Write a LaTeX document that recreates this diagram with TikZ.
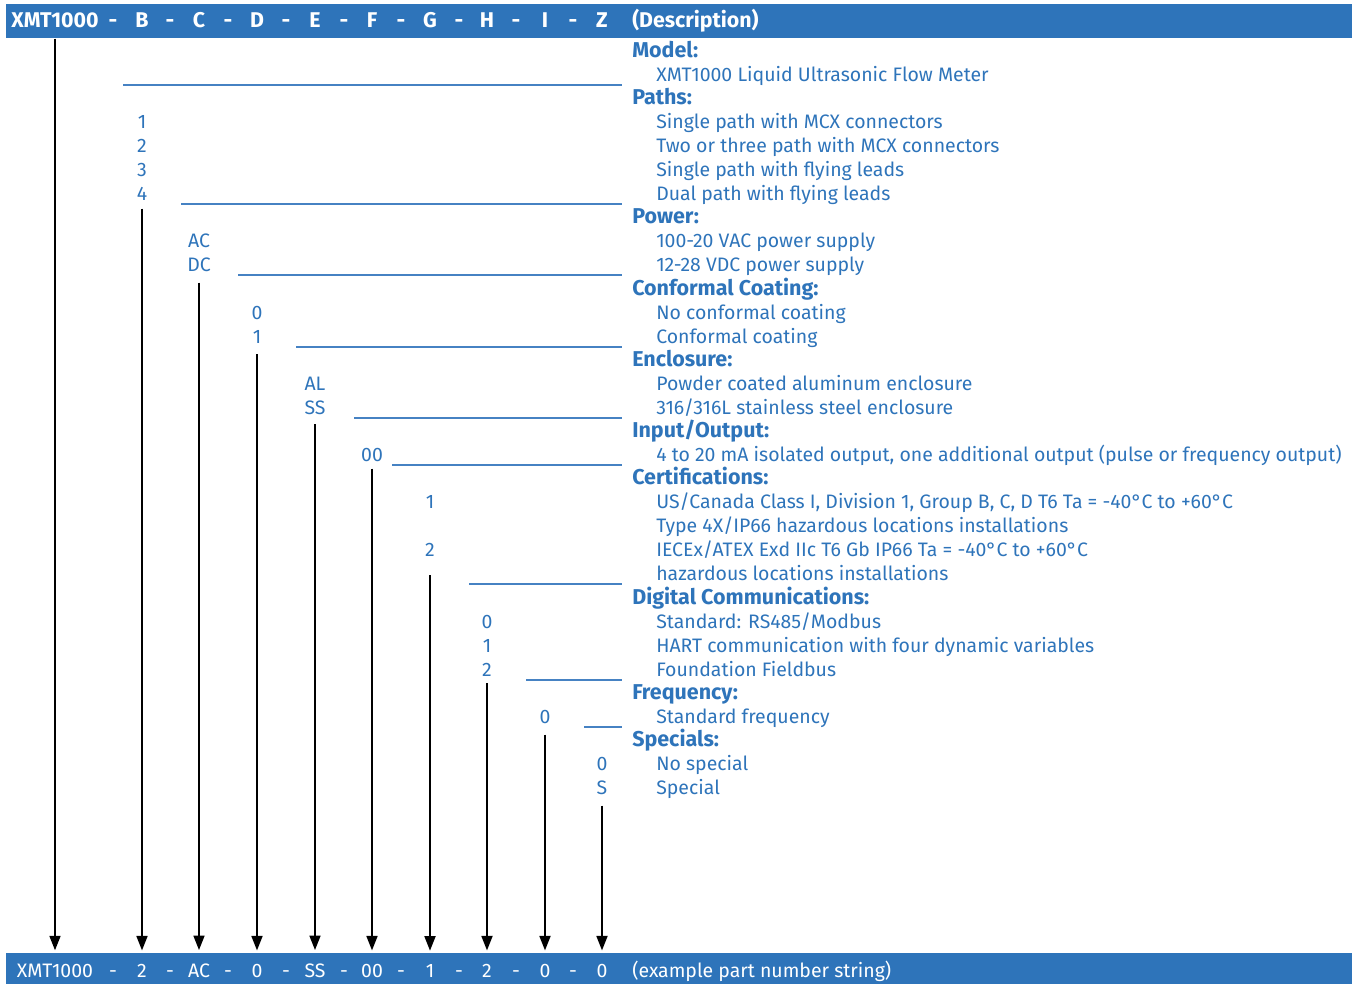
\documentclass[tikz,border=0pt]{standalone}
\usepackage{fontspec}
\setmainfont{Fira Sans}
\usetikzlibrary{arrows.meta}
\definecolor{geblue}{RGB}{46,116,186}
\definecolor{gerule}{RGB}{70,130,195}

\begin{document}
\begin{tikzpicture}[x=0.75pt,y=-0.75pt,
  txt/.style={inner sep=0pt,yshift=-2.2pt,font=\fontsize{14.6}{17}\selectfont},
  code/.style={txt,text=geblue,anchor=mid},
  desc/.style={txt,text=geblue,anchor=mid west},
  group/.style={desc,font=\fontsize{16.1}{18}\selectfont\bfseries},
  barhead/.style={txt,text=white,anchor=mid,font=\fontsize{16}{18}\selectfont\bfseries},
  barval/.style={txt,text=white,anchor=mid},
  pick/.style={line width=2pt,-{Triangle[length=11pt,width=8pt]}},
  rule/.style={gerule,line width=0.9pt}]
\useasboundingbox (0,0) rectangle (1359,984);

\fill[geblue] (6,4) rectangle (1352,38);
\fill[geblue] (6,953) rectangle (1352,984);

\foreach \n/\x/\t in {x/55/XMT1000,b/142/B,c/199/C,d/257/D,e/315/E,f/372/F,g/430/G,h/487/H,i/545/I,z/602/Z}
  \node[barhead] (h\n) at (\x,21) {\t};
\foreach \x [count=\i] in {113,170,228,286,344,401,459,516,573}
  \node[barhead] (hd\i) at (\x,21) {-};
\node[barhead,anchor=mid west] (hdesc) at (632,21) {(Description)};

\foreach \n/\x/\t in {x/55/XMT1000,b/142/2,c/199/AC,d/257/0,e/315/SS,f/372/00,g/430/1,h/487/2,i/545/0,z/602/0}
  \node[barval] (v\n) at (\x,971) {\t};
\foreach \x [count=\i] in {113,170,228,286,344,401,459,516,573}
  \node[barval] (vd\i) at (\x,971) {-};
\node[barval,anchor=mid west] (vdesc) at (632,971) {(example part number string)};

\node[group] (gmodel) at (632,51) {Model:};
\node[desc] (dmodel) at (656,75) {XMT1000 Liquid Ultrasonic Flow Meter};
\node[group] (gpath) at (632,98) {Paths:};
\node[desc] (dpath1) at (656,122) {Single path with MCX connectors};
\node[desc] (dpath2) at (656,146) {Two or three path with MCX connectors};
\node[desc] (dpath3) at (656,170) {Single path with flying leads};
\node[desc] (dpath4) at (656,194) {Dual path with flying leads};
\node[group] (gpower) at (632,217) {Power:};
\node[desc] (dpower1) at (656,241) {100-20 VAC power supply};
\node[desc] (dpower2) at (656,265) {12-28 VDC power supply};
\node[group] (gcoat) at (632,289) {Conformal Coating:};
\node[desc] (dcoat1) at (656,313) {No conformal coating};
\node[desc] (dcoat2) at (656,337) {Conformal coating};
\node[group] (gencl) at (632,360) {Enclosure:};
\node[desc] (dencl1) at (656,384) {Powder coated aluminum enclosure};
\node[desc] (dencl2) at (656,408) {316/316L stainless steel enclosure};
\node[group] (gio) at (632,431) {Input/Output:};
\node[desc] (dio) at (656,455) {4 to 20 mA isolated output, one additional output (pulse or frequency output)};
\node[group] (gcert) at (632,478) {Certifications:};
\node[desc] (dcert1) at (656,502) {US/Canada Class I, Division 1, Group B, C, D T6 Ta = -40°C to +60°C};
\node[desc] (dcert1b) at (656,526) {Type 4X/IP66 hazardous locations installations};
\node[desc] (dcert2) at (656,550) {IECEx/ATEX Exd IIc T6 Gb IP66 Ta = -40°C to +60°C};
\node[desc] (dcert2b) at (656,574) {hazardous locations installations};
\node[group] (gcomm) at (632,598) {Digital Communications:};
\node[desc] (dcomm0) at (656,622) {Standard: RS485/Modbus};
\node[desc] (dcomm1) at (656,646) {HART communication with four dynamic variables};
\node[desc] (dcomm2) at (656,670) {Foundation Fieldbus};
\node[group] (gfreq) at (632,693) {Frequency:};
\node[desc] (dfreq) at (656,717) {Standard frequency};
\node[group] (gspec) at (632,740) {Specials:};
\node[desc] (dspec0) at (656,764) {No special};
\node[desc] (dspec1) at (656,788) {Special};

\node[code] (b1) at (142,122) {1};
\node[code] (b2) at (142,146) {2};
\node[code] (b3) at (142,170) {3};
\node[code] (b4) at (142,194) {4};
\node[code] (c1) at (199,241) {AC};
\node[code] (c2) at (199,265) {DC};
\node[code] (d1) at (257,313) {0};
\node[code] (d2) at (257,337) {1};
\node[code] (e1) at (315,384) {AL};
\node[code] (e2) at (315,408) {SS};
\node[code] (f1) at (372,455) {00};
\node[code] (g1) at (430,502) {1};
\node[code] (g2) at (430,550) {2};
\node[code] (h1) at (487,622) {0};
\node[code] (h2) at (487,646) {1};
\node[code] (h3) at (487,670) {2};
\node[code] (i1) at (545,717) {0};
\node[code] (z1) at (602,764) {0};
\node[code] (z2) at (602,788) {S};

\foreach \x/\y in {123/85,181/204,238/275,296/347,354/418,392/465,469/584,526/680,584/727}
  \draw[rule] (\x,\y) -- (622,\y);

\draw[pick,shorten <=8pt,shorten >=10pt] (hx) -- (vx);
\draw[pick,shorten <=6pt,shorten >=10pt] (b4) -- (vb);
\draw[pick,shorten <=8pt,shorten >=10pt] (c2) -- (vc);
\draw[pick,shorten <=8pt,shorten >=10pt] (d2) -- (vd);
\draw[pick,shorten <=7pt,shorten >=10pt] (e2) -- (ve);
\draw[pick,shorten <=5pt,shorten >=10pt] (f1) -- (vf);
\draw[pick,shorten <=14pt,shorten >=10pt] (g2) -- (vg);
\draw[pick,shorten <=5pt,shorten >=10pt] (h3) -- (vh);
\draw[pick,shorten <=8pt,shorten >=10pt] (i1) -- (vi);
\draw[pick,shorten <=8pt,shorten >=10pt] (z2) -- (vz);
\end{tikzpicture}
\end{document}
